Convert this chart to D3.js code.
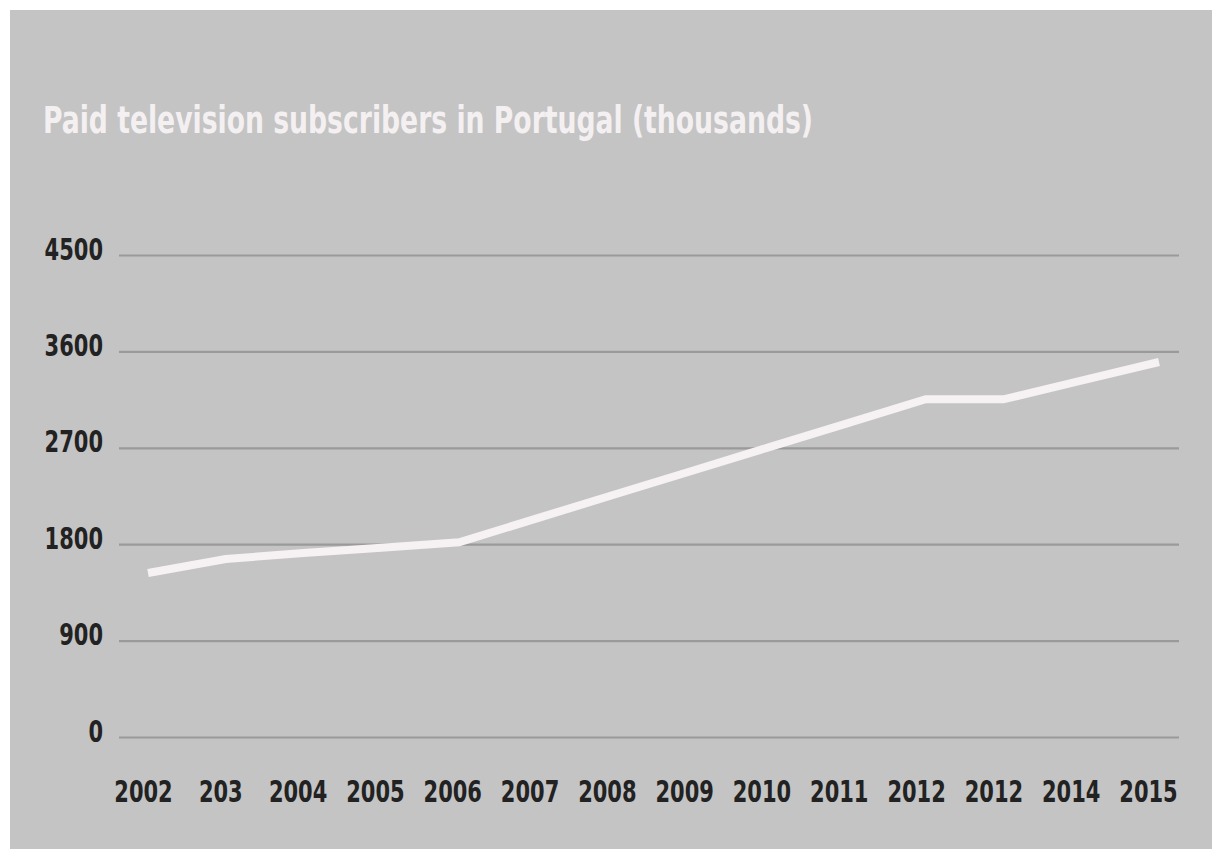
<!DOCTYPE html>
<html>
<head>
<meta charset="utf-8">
<script src="https://cdn.jsdelivr.net/npm/d3@7"></script>
<style>
html,body{margin:0;padding:0;background:#ffffff;}
svg{display:block;}
</style>
</head>
<body>
<svg id="chart" width="1212" height="849"></svg>
<script>
const title = "Paid television subscribers in Portugal (thousands)";
const yearLabels = ["2002","203","2004","2005","2006","2007","2008","2009","2010","2011","2012","2012","2014","2015"];
const subscribers = [1531,1662,1718,1767,1818,2041,2264,2486,2709,2931,3153,3153,3327,3501];
const yTicks = [0,900,1800,2700,3600,4500];

const svg = d3.select("#chart");
const W = 1212, H = 849;
const FONT = "'Liberation Sans Narrow','DejaVu Sans Condensed','Roboto Condensed',sans-serif";
const charW = 14.6; // condensed digit advance used to fit label width

svg.append("rect").attr("x",10).attr("y",10).attr("width",W-10).attr("height",H-10).attr("fill","#c4c4c4");

svg.append("text")
  .attr("x",43).attr("y",133)
  .attr("font-family",FONT).attr("font-weight","bold").attr("font-size",37)
  .attr("fill","#f4f0f1")
  .attr("textLength",770).attr("lengthAdjust","spacingAndGlyphs")
  .text(title);

const idx = yearLabels.map((d,i)=>i);
const x = d3.scalePoint().domain(idx).range([148,1159]);
const xl = d3.scalePoint().domain(idx).range([143,1148]);
const y = d3.scaleLinear().domain([0,4500]).range([737,255]);

// grid lines
const gridAxis = d3.axisLeft(y).tickValues(yTicks).tickSize(-(1179-119)).tickFormat("");
const gg = svg.append("g").attr("transform","translate(119,0)").call(gridAxis);
gg.select(".domain").remove();
gg.selectAll(".tick line").attr("stroke","#9a9a9a").attr("stroke-width",2.2);

// y labels
const yAxis = d3.axisLeft(y).tickValues(yTicks).tickSize(0).tickPadding(0).tickFormat(d3.format("d"));
const yg = svg.append("g").attr("transform","translate(103,0)").call(yAxis);
yg.select(".domain").remove();
yg.selectAll(".tick text")
  .attr("font-family",FONT).attr("font-weight","bold").attr("font-size",30)
  .attr("fill","#222").attr("dy",4).attr("x",0)
  .attr("textLength",d=>String(d).length*charW).attr("lengthAdjust","spacingAndGlyphs");

// x labels
const xAxis = d3.axisBottom(xl).tickSize(0).tickPadding(0).tickFormat(i=>yearLabels[i]);
const xg = svg.append("g").attr("transform","translate(0,802)").call(xAxis);
xg.select(".domain").remove();
xg.selectAll(".tick text")
  .attr("font-family",FONT).attr("font-weight","bold").attr("font-size",30)
  .attr("fill","#222").attr("dy",0).attr("y",0)
  .attr("textLength",i=>yearLabels[i].length*charW).attr("lengthAdjust","spacingAndGlyphs");

// line
const line = d3.line().x((d,i)=>x(i)).y(d=>y(d));
svg.append("path").datum(subscribers)
  .attr("d",line)
  .attr("fill","none").attr("stroke","#f6f1f3").attr("stroke-width",8)
  .attr("stroke-linejoin","miter").attr("stroke-linecap","butt");
</script>
</body>
</html>
